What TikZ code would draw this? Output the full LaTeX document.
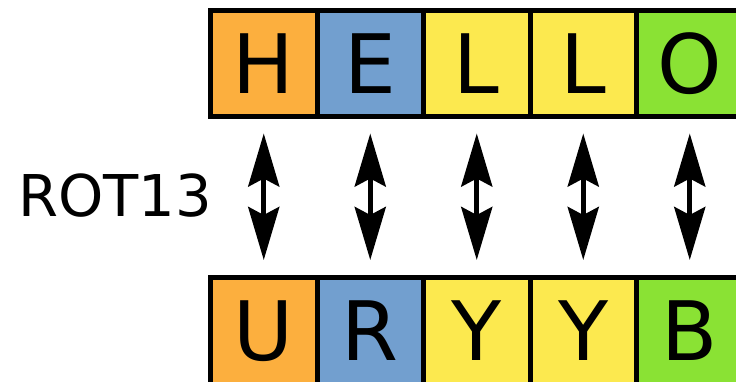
\documentclass[tikz,border=0pt]{standalone}
\usepackage{fontspec}
\newfontfamily\dvsans{DejaVu Sans}
\usetikzlibrary{arrows.meta}
\definecolor{tOrange}{HTML}{FCAF3E}
\definecolor{tBlue}{HTML}{729FCF}
\definecolor{tYellow}{HTML}{FCE94F}
\definecolor{tGreen}{HTML}{8AE234}
\begin{document}
\begin{tikzpicture}[x=1pt,y=-1pt,
  letterbox/.style={draw=black, line width=5pt, minimum size=106.5pt, inner sep=0pt,
    font=\dvsans\fontsize{82}{82}\selectfont},
  swap/.style={line width=5pt, {Stealth[length=53pt,width=31pt,inset=8pt]}-{Stealth[length=53pt,width=31pt,inset=8pt]}, shorten <=14pt, shorten >=15pt}]
\useasboundingbox (0,0) rectangle (736,382);
\clip (0,0) rectangle (736,382);
\foreach \i/\c/\t/\b in {0/tOrange/H/U,1/tBlue/E/R,2/tYellow/L/Y,3/tYellow/L/Y,4/tGreen/O/B}{
  \node[letterbox, fill=\c] (t\i) at (263.75+106.5*\i, 63.75) {\t};
  \node[letterbox, fill=\c] (b\i) at (263.75+106.5*\i, 330.75) {\b};
  \draw[swap] (t\i.south) -- (b\i.north);
}
\node[font=\dvsans\fontsize{57.6}{57.6}\selectfont, inner sep=0pt] (rot) at (115,196) {ROT13};
\end{tikzpicture}
\end{document}
